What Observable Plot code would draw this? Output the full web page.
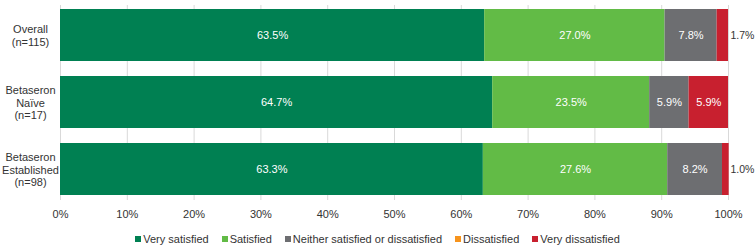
<!DOCTYPE html>
<html>
<head>
<meta charset="utf-8">
<script src="https://cdn.jsdelivr.net/npm/d3@7"></script>
<script src="https://cdn.jsdelivr.net/npm/@observablehq/plot@0.6"></script>
<style>
  body { margin: 0; background: #fff; font-family: "Liberation Sans", Arial, sans-serif; }
  #chart svg { overflow: visible; }
  #legend { display: flex; justify-content: center; gap: 13px; font-size: 11px; color: #333; margin-top: 11px; }
  #legend span.item { display: inline-flex; align-items: center; }
  #legend span.sw { width: 6px; height: 6px; display: inline-block; margin-right: 2px; }
</style>
</head>
<body>
<div id="chart"></div>
<div id="legend"></div>
<script>
const groups = ["Overall\n(n=115)", "Betaseron\nNaïve\n(n=17)", "Betaseron\nEstablished\n(n=98)"];
const categories = ["Very satisfied", "Satisfied", "Neither satisfied or dissatisfied", "Dissatisfied", "Very dissatisfied"];
const colors = ["#008052", "#62bb46", "#6d6e71", "#f7941d", "#c8202f"];
const verySatisfied = [63.5, 64.7, 63.3];
const satisfied = [27.0, 23.5, 27.6];
const neither = [7.8, 5.9, 8.2];
const dissatisfied = [0, 0, 0];
const veryDissatisfied = [1.7, 5.9, 1.0];
const xTicks = [0, 10, 20, 30, 40, 50, 60, 70, 80, 90, 100];

const series = [verySatisfied, satisfied, neither, dissatisfied, veryDissatisfied];
const data = [];
groups.forEach((g, gi) => {
  categories.forEach((c, ci) => {
    data.push({group: g, cat: c, value: series[ci][gi]});
  });
});
const inside = data.filter(d => d.value >= 3);
const outside = data.filter(d => d.value > 0 && d.value < 3);

const chart = Plot.plot({
  width: 755,
  height: 222,
  marginLeft: 60,
  marginRight: 27,
  marginTop: 5,
  marginBottom: 22,
  style: {fontFamily: "'Liberation Sans', Arial, sans-serif", fontSize: "11px", color: "#333", overflow: "visible"},
  x: {domain: [0, 100], ticks: xTicks, tickFormat: d => d + "%", label: null},
  y: {domain: groups, paddingInner: 0.22, paddingOuter: 0.05, label: null},
  color: {domain: categories, range: colors},
  marks: [
    Plot.gridX(xTicks, {stroke: "#d9d9d9", strokeOpacity: 1}),
    Plot.axisX({ticks: xTicks, tickSize: 0, tickPadding: 10, tickFormat: d => d + "%", fontSize: 11, fill: "#333", label: null}),
    Plot.axisY({tickSize: 0, tickPadding: 30, textAnchor: "middle", lineHeight: 1.15, fontSize: 11, fill: "#333", label: null}),
    Plot.barX(data, Plot.stackX({x: "value", y: "group", fill: "cat", order: categories})),
    Plot.text(inside, Plot.stackX({x: "value", y: "group", z: "cat", order: categories, text: d => d.value.toFixed(1) + "%", fill: "white", fontSize: 11})),
    Plot.text(outside, {x: 100, y: "group", text: d => d.value.toFixed(1) + "%", fill: "#333", fontSize: 10.5, textAnchor: "start", dx: 2})
  ]
});
document.getElementById("chart").appendChild(chart);

const legend = document.getElementById("legend");
categories.forEach((c, i) => {
  const item = document.createElement("span");
  item.className = "item";
  item.innerHTML = `<span class="sw" style="background:${colors[i]}"></span>${c}`;
  legend.appendChild(item);
});
</script>
</body>
</html>
